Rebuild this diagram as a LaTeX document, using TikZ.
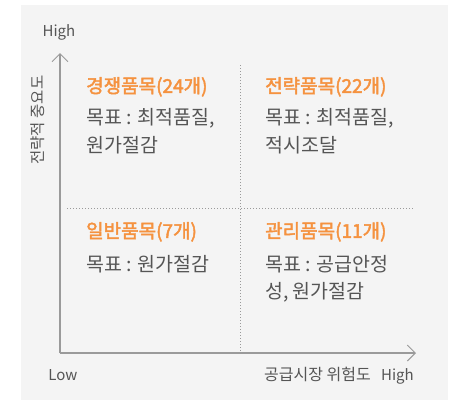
\documentclass[tikz,border=0pt]{standalone}
\usepackage{fontspec}
\setmainfont{Noto Sans CJK KR}
\newfontfamily\medfont[FakeBold=2.2]{Noto Sans CJK KR}
\usetikzlibrary{arrows.meta}
\definecolor{bgc}{HTML}{F4F4F4}
\definecolor{orangec}{HTML}{F5923F}
\definecolor{txtc}{HTML}{555555}
\definecolor{axc}{HTML}{9A9A9A}
\begin{document}
\begin{tikzpicture}[x=1pt,y=-1pt,
  ttl/.style={anchor=west,inner sep=0,text=orangec,text height=0.88em,text depth=0.12em,font=\medfont\fontsize{19}{21}\selectfont},
  bodytxt/.style={anchor=west,inner sep=0,text=txtc,text height=0.88em,text depth=0.12em,font=\fontsize{19.5}{21}\selectfont},
  axlab/.style={inner sep=0,text=txtc,text height=0.88em,text depth=0.12em,font=\fontsize{15}{17}\selectfont},
  axisline/.style={draw=axc,line width=1.2pt,-{Straight Barb[length=8pt,width=16pt,line width=1pt]}},
  gridline/.style={draw=axc,line width=0.9pt,dash pattern=on 1pt off 2pt}]
\useasboundingbox (0,0) rectangle (450,400);
\fill[bgc] (21,5) rectangle (448,400);
% axes
\coordinate (O) at (60,353);
\coordinate (Ytop) at (60,53);
\coordinate (Xend) at (416,353);
\draw[axisline] (O) -- (Ytop);
\draw[axisline] (O) -- (Xend);
% dotted grid
\coordinate (Vt) at (240,65);
\coordinate (Vb) at (240,352);
\coordinate (Hl) at (67,208);
\coordinate (Hr) at (414,208);
\draw[gridline] (Vt) -- (Vb);
\draw[gridline] (Hl) -- (Hr);
% axis labels
\node[axlab] (yhigh) at (59,33) {High};
\node[axlab,rotate=90,font=\fontsize{15.5}{17}\selectfont] (ylab) at (40,120) {전략적 중요도};
\node[axlab] (xlow) at (63,377) {Low};
\node[axlab,anchor=east,font=\fontsize{16}{18}\selectfont] (xlab) at (371,377) {공급시장 위험도};
\node[axlab,anchor=west] (xhigh) at (381,377) {High};
% quadrant 1
\node[ttl] (q1t) at (86,89) {경쟁품목(24개)};
\node[bodytxt] (q1a) at (86,121) {목표 : 최적품질,};
\node[bodytxt] (q1b) at (86,149) {원가절감};
% quadrant 2
\node[ttl] (q2t) at (265,89) {전략품목(22개)};
\node[bodytxt] (q2a) at (265,121) {목표 : 최적품질,};
\node[bodytxt] (q2b) at (265,149) {적시조달};
% quadrant 3
\node[ttl] (q3t) at (86,234) {일반품목(7개)};
\node[bodytxt] (q3a) at (86,268) {목표 : 원가절감};
% quadrant 4
\node[ttl] (q4t) at (265,234) {관리품목(11개)};
\node[bodytxt] (q4a) at (265,268) {목표 : 공급안정};
\node[bodytxt] (q4b) at (265,295) {성, 원가절감};
\end{tikzpicture}
\end{document}
